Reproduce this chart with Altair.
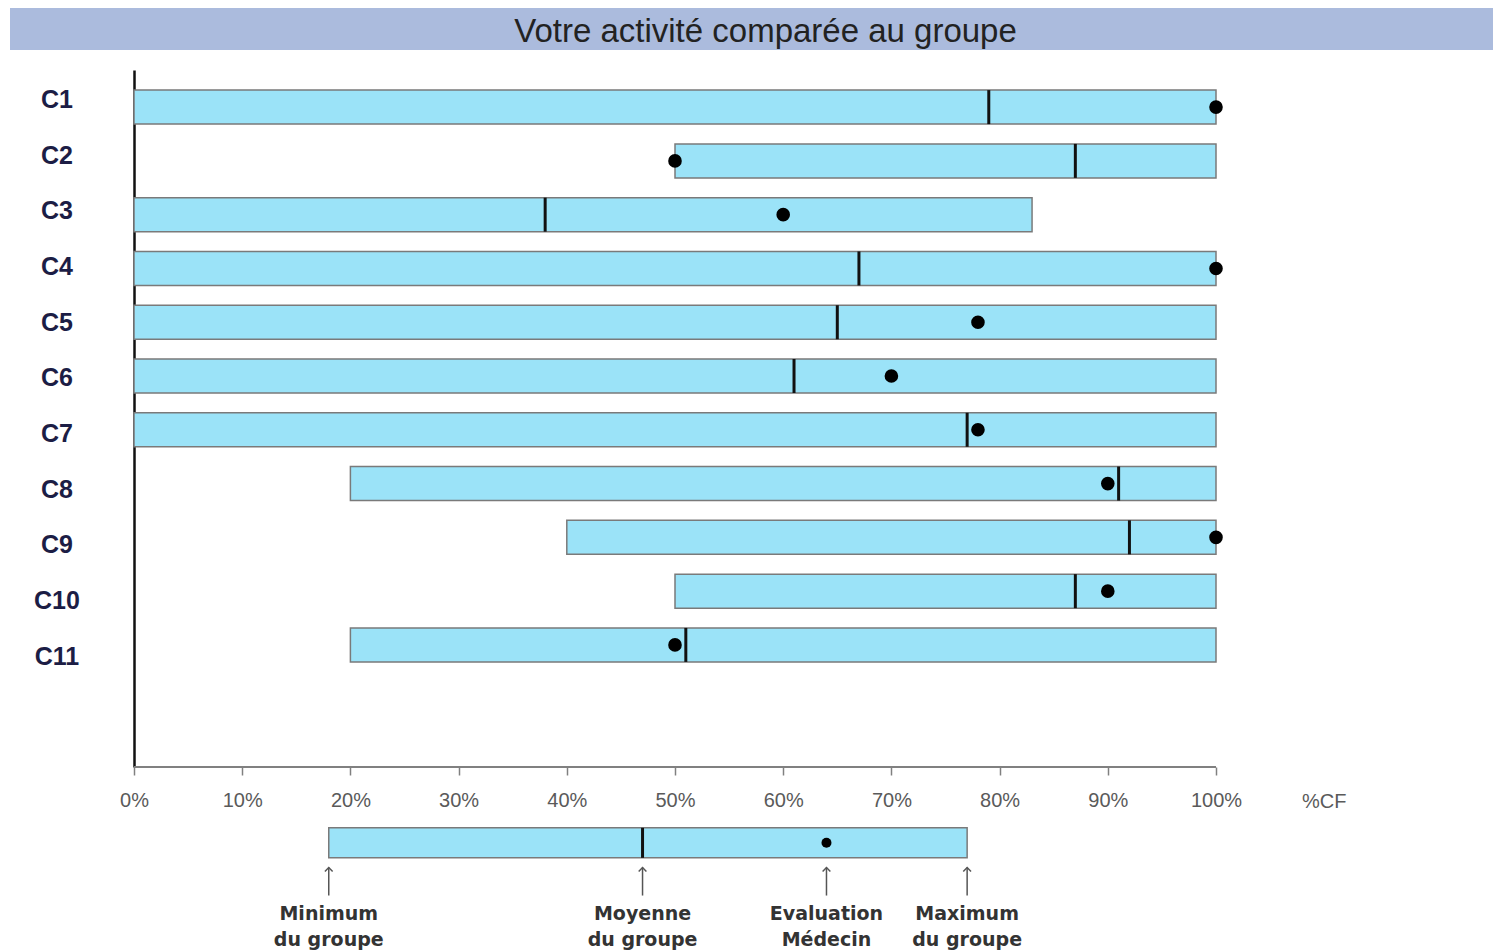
import altair as alt
import pandas as pd

# ---------------- data ----------------
title_text = "Votre activité comparée au groupe"
categories = ["C1", "C2", "C3", "C4", "C5", "C6", "C7", "C8", "C9", "C10", "C11"]
group_min = [0, 50, 0, 0, 0, 0, 0, 20, 40, 50, 20]
group_max = [100, 100, 83, 100, 100, 100, 100, 100, 100, 100, 100]
group_mean = [79, 87, 38, 67, 65, 61, 77, 91, 92, 87, 51]
doctor_eval = [100, 50, 60, 100, 78, 70, 78, 90, 100, 90, 50]

tick_values = [0, 10, 20, 30, 40, 50, 60, 70, 80, 90, 100]
unit_label = "%CF"
unit_pos = 110

# example bar of the explanatory key (min, mean, evaluation, max)
key_min, key_mean, key_eval, key_max = 18, 47, 64, 77
key_labels = ["Minimum\ndu groupe", "Moyenne\ndu groupe", "Evaluation\nMédecin", "Maximum\ndu groupe"]

# ---------------- tables ----------------
rows = list(range(1, len(categories) + 1))
df = pd.DataFrame({"row": rows, "cat": categories, "gmin": group_min,
                   "gmax": group_max, "gmean": group_mean, "ev": doctor_eval})
key_df = pd.DataFrame({"gmin": [key_min], "gmax": [key_max], "gmean": [key_mean], "ev": [key_eval]})
key_lab_df = pd.DataFrame({"v": [key_min, key_mean, key_eval, key_max], "lab": key_labels})
unit_df = pd.DataFrame({"v": [unit_pos], "lab": [unit_label]})
axis_df = pd.DataFrame({"a": [tick_values[0]], "b": [tick_values[-1]]})

# ---------------- layout / styling ----------------
BAR_FILL = "#9be3f8"
BAR_STROKE = "#7a7a7a"
W = 1483          # full-width view (title band and plot share it)
H = 697
LEFT = 124        # pixels between the view's left edge and the 0 % line
PX_PER_PCT = 10.82
KEY_ROW = 14.68
ARROW_TOP = 15.14
ARROW_BOT = 15.66
KEY_TEXT = 15.84
LABEL_START = 0.868   # category labels sit on a slightly wider grid than the bars
LABEL_STEP = 1.0353
LABEL_X = LEFT - 77

xscale = alt.Scale(domain=[-LEFT / PX_PER_PCT, (W - LEFT) / PX_PER_PCT], nice=False, zero=False)
yscale = alt.Scale(domain=[0.31, 13.27], reverse=True, nice=False, zero=False, padding=0)

x_axis = alt.Axis(values=tick_values, labelExpr="datum.value + '%'", grid=False, domain=False,
                  tickColor="#808080", tickWidth=1.5, tickSize=8, labelPadding=15,
                  labelFont="Liberation Sans", labelFontSize=20, labelColor="#5a5a5a",
                  labelFlush=False, title=None)
y_axis = alt.Axis(values=rows, labels=False, grid=False, ticks=False, tickSize=0,
                  offset=-LEFT, domainColor="#111111", domainWidth=2.5, title=None)

base = alt.Chart(df)

bars = base.mark_bar(orient="horizontal", size=34, fill=BAR_FILL, stroke=BAR_STROKE,
                     strokeWidth=1.5).encode(
    x=alt.X("gmin:Q", scale=xscale, axis=x_axis, title=None),
    x2="gmax:Q",
    y=alt.Y("row:Q", scale=yscale, axis=y_axis),
)
means = base.mark_tick(orient="vertical", thickness=3, size=34, color="#111111", opacity=1).encode(
    x=alt.X("gmean:Q", scale=xscale, title=None),
    y=alt.Y("row:Q", scale=yscale),
)
dots = base.mark_circle(size=185, color="#000000", opacity=1).encode(
    x=alt.X("ev:Q", scale=xscale, title=None),
    y=alt.Y("row:Q", scale=yscale),
)
cat_labels = base.transform_calculate(
    ly=f"{LABEL_START} + (datum.row - 1) * {LABEL_STEP}"
).mark_text(font="Liberation Sans", fontSize=25, fontWeight="bold", color="#1c1d45",
            align="center", baseline="middle").encode(
    x=alt.value(LABEL_X),
    y=alt.Y("ly:Q", scale=yscale),
    text="cat:N",
)
x_line = alt.Chart(axis_df).mark_rule(color="#808080", strokeWidth=2).encode(
    x=alt.X("a:Q", scale=xscale, title=None), x2="b:Q", y=alt.value(H))
unit = alt.Chart(unit_df).mark_text(font="Liberation Sans", fontSize=20, color="#5a5a5a",
                                    baseline="middle").encode(
    x=alt.X("v:Q", scale=xscale, title=None),
    y=alt.value(H + 35),
    text="lab:N",
)

kbase = alt.Chart(key_df)
kbar = kbase.mark_bar(orient="horizontal", size=30, fill=BAR_FILL, stroke=BAR_STROKE,
                      strokeWidth=1.5).encode(
    x=alt.X("gmin:Q", scale=xscale, title=None), x2="gmax:Q", y=alt.datum(KEY_ROW))
kmean = kbase.mark_tick(orient="vertical", thickness=3, size=30, color="#111111", opacity=1).encode(
    x=alt.X("gmean:Q", scale=xscale, title=None), y=alt.datum(KEY_ROW))
kdot = kbase.mark_circle(size=100, color="#000000", opacity=1).encode(
    x=alt.X("ev:Q", scale=xscale, title=None), y=alt.datum(KEY_ROW))

lbase = alt.Chart(key_lab_df)
arrows = lbase.mark_rule(color="#555555", strokeWidth=1.5).encode(
    x=alt.X("v:Q", scale=xscale, title=None), y=alt.datum(ARROW_TOP), y2=alt.datum(ARROW_BOT))
heads = lbase.mark_point(shape="M-1,1L0,0L1,1", filled=False, size=60, color="#555555",
                         strokeWidth=1.5, opacity=1).encode(
    x=alt.X("v:Q", scale=xscale, title=None), y=alt.datum(ARROW_TOP))
labels = lbase.mark_text(lineBreak="\n", baseline="top", align="center", font="DejaVu Sans",
                         fontSize=19, fontWeight="bold", color="#333333", lineHeight=26).encode(
    x=alt.X("v:Q", scale=xscale, title=None), y=alt.datum(KEY_TEXT), text="lab:N")

main = alt.layer(bars, means, dots, cat_labels, x_line, unit, kbar, kmean, kdot, arrows, heads,
                 labels).properties(width=W, height=H)

title_chart = alt.Chart(pd.DataFrame({"t": [title_text]})).mark_text(
    font="Liberation Sans", fontSize=33, color="#222222", dx=14, dy=3, baseline="middle"
).encode(text="t:N").properties(
    width=W, height=42, view=alt.ViewBackground(fill="#abbbdd", stroke=None))

chart = alt.vconcat(title_chart, main, spacing=20).properties(
    padding={"left": 2, "top": 0, "right": 0, "bottom": 0}
).configure_view(stroke=None)

chart.save("out.html", embed_options={"renderer": "svg", "actions": False})
